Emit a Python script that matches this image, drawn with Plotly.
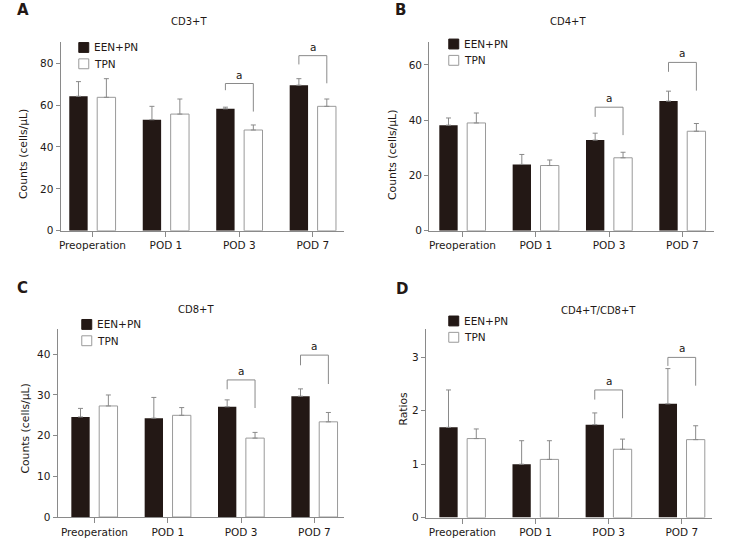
import plotly.graph_objects as go

W, H = 730, 552
FONT = "DejaVu Sans, Verdana, sans-serif"
DARK = "#231815"
GREY = "#8a8a8a"

categories = ["Preoperation", "POD 1", "POD 3", "POD 7"]
groups = ["EEN+PN", "TPN"]
panel_letters = ["A", "B", "C", "D"]
panel_titles = ["CD3+T", "CD4+T", "CD8+T", "CD4+T/CD8+T"]
y_titles = ["Counts (cells/\u03bcL)", "Counts (cells/\u03bcL)", "Counts (cells/\u03bcL)", "Ratios"]

# mean values and upper error (SD)
cd3_een = [64.2, 53.0, 58.2, 69.5]
cd3_een_err = [7.0, 6.4, 0.8, 3.1]
cd3_tpn = [63.7, 55.7, 48.1, 59.4]
cd3_tpn_err = [8.9, 7.2, 2.4, 3.5]

cd4_een = [38.2, 24.0, 32.8, 46.9]
cd4_een_err = [2.6, 3.6, 2.5, 3.6]
cd4_tpn = [39.0, 23.6, 26.4, 36.0]
cd4_tpn_err = [3.6, 2.0, 2.0, 2.8]

cd8_een = [24.6, 24.3, 27.1, 29.7]
cd8_een_err = [2.1, 5.1, 1.7, 1.8]
cd8_tpn = [27.3, 25.0, 19.4, 23.4]
cd8_tpn_err = [2.7, 1.9, 1.4, 2.3]

ratio_een = [1.69, 1.00, 1.74, 2.13]
ratio_een_err = [0.70, 0.44, 0.22, 0.66]
ratio_tpn = [1.48, 1.09, 1.28, 1.46]
ratio_tpn_err = [0.18, 0.35, 0.19, 0.26]

y_ticks = [
    [0, 20, 40, 60, 80],
    [0, 20, 40, 60],
    [0, 10, 20, 30, 40],
    [0, 1, 2, 3],
]

# significance brackets: (category index, top, left leg end, right leg end)
cd3_sig = [(2, 70.3, 67.1, 56.9), (3, 83.6, 79.4, 70.4)]
cd4_sig = [(2, 44.7, 41.2, 34.6), (3, 60.9, 57.5, 50.7)]
cd8_sig = [(2, 33.7, 31.4, 26.8), (3, 39.8, 37.3, 32.7)]
ratio_sig = [(2, 2.39, 2.21, 1.86), (3, 3.00, 2.84, 2.47)]
sig_label = "a"

# pixel layout of each panel: x0, x1 (axis), y of zero line, y of top, y max, x range
boxes = [
    dict(x0=58.7, x1=343.0, yb=233.3, yt=42.7, ymax=90, xr=[-0.434, 3.425]),
    dict(x0=428.3, x1=714.3, yb=233.3, yt=42.7, ymax=68.2, xr=[-0.454, 3.435]),
    dict(x0=55.7, x1=343.3, yb=522.7, yt=332.7, ymax=46.2, xr=[-0.503, 3.408]),
    dict(x0=425.0, x1=711.7, yb=523.3, yt=332.7, ymax=3.53, xr=[-0.50, 3.41]),
]
letter_pos = [(21, 10), (400, 10), (21, 291), (401, 292)]
title_pos = [(188, 21.7), (568, 21.7), (195, 312.7), (598, 313.7)]
ytitle_pos = [(21.7, 156), (391.7, 157), (23.3, 433), (401.7, 413.5)]
legend_pos = [(77, 43), (448, 39.5), (80, 323), (448, 319.5)]

panel_data = [
    (cd3_een, cd3_een_err, cd3_tpn, cd3_tpn_err, cd3_sig),
    (cd4_een, cd4_een_err, cd4_tpn, cd4_tpn_err, cd4_sig),
    (cd8_een, cd8_een_err, cd8_tpn, cd8_tpn_err, cd8_sig),
    (ratio_een, ratio_een_err, ratio_tpn, ratio_tpn_err, ratio_sig),
]

OFFSET = 0.19
BAR_W = 0.25


def px(x):
    return x / W


def py(y):
    return 1 - y / H


fig = go.Figure()
layout = {}
annotations = []
shapes = []

for k, (een, een_err, tpn, tpn_err, sig) in enumerate(panel_data):
    sfx = "" if k == 0 else str(k + 1)
    xa, ya = "x" + sfx, "y" + sfx
    box = boxes[k]
    idx = list(range(len(categories)))
    x_een = [i - OFFSET for i in idx]
    x_tpn = [i + OFFSET for i in idx]

    fig.add_trace(go.Bar(
        x=x_een, y=een, width=BAR_W, name=groups[0],
        marker=dict(color=DARK, line=dict(width=0)),
        error_y=dict(type="data", symmetric=False, array=een_err,
                     arrayminus=[0] * len(een), color=GREY, thickness=1, width=2.5),
        xaxis=xa, yaxis=ya, showlegend=False,
    ))
    fig.add_trace(go.Bar(
        x=x_tpn, y=tpn, width=BAR_W, name=groups[1],
        marker=dict(color="white", line=dict(width=1, color="#9a9a9a")),
        error_y=dict(type="data", symmetric=False, array=tpn_err,
                     arrayminus=[0] * len(tpn), color=GREY, thickness=1, width=2.5),
        xaxis=xa, yaxis=ya, showlegend=False,
    ))

    axis_common = dict(
        showline=True, linecolor=GREY, linewidth=1, ticks="outside",
        tickcolor=GREY, tickwidth=1, showgrid=False, zeroline=False,
        tickfont=dict(family=FONT, size=10.5, color=DARK),
    )
    layout["xaxis" + sfx] = dict(
        axis_common, domain=[px(box["x0"]), px(box["x1"])], anchor=ya,
        range=box["xr"], tickvals=idx, ticktext=categories, ticklen=5,
    )
    layout["yaxis" + sfx] = dict(
        axis_common, domain=[py(box["yb"]), py(box["yt"])], anchor=xa,
        range=[0, box["ymax"]], tickvals=y_ticks[k], ticklen=4,
    )

    # significance brackets
    for ci, top, left_end, right_end in sig:
        xl, xr = ci - OFFSET, ci + OFFSET
        shapes.append(dict(
            type="path", xref=xa, yref=ya,
            path=f"M {xl},{left_end} L {xl},{top} L {xr},{top} L {xr},{right_end}",
            line=dict(color=GREY, width=1),
        ))
        annotations.append(dict(
            x=ci, y=top, xref=xa, yref=ya, text=sig_label, showarrow=False,
            yanchor="bottom", yshift=1,
            font=dict(family=FONT, size=10.5, color=DARK),
        ))

    # panel letter, title and y title
    lx, ly = letter_pos[k]
    annotations.append(dict(
        x=px(lx), y=py(ly), xref="paper", yref="paper", text=f"<b>{panel_letters[k]}</b>",
        showarrow=False, xanchor="center", yanchor="middle",
        font=dict(family=FONT, size=15, color=DARK),
    ))
    tx, ty = title_pos[k]
    annotations.append(dict(
        x=px(tx), y=py(ty), xref="paper", yref="paper", text=panel_titles[k],
        showarrow=False, xanchor="center", yanchor="middle",
        font=dict(family=FONT, size=10, color=DARK),
    ))
    yx, yy = ytitle_pos[k]
    annotations.append(dict(
        x=px(yx), y=py(yy), xref="paper", yref="paper", text=y_titles[k],
        showarrow=False, xanchor="center", yanchor="middle", textangle=-90,
        font=dict(family=FONT, size=10.8, color=DARK),
    ))

    # legend drawn by hand so it sits tight like the original
    gx, gy = legend_pos[k]
    for j, (fill, line) in enumerate([(DARK, DARK), ("white", "#9a9a9a")]):
        top = gy + j * 16.5
        shapes.append(dict(
            type="rect", xref="paper", yref="paper",
            x0=px(gx), x1=px(gx + 10), y0=py(top + 10), y1=py(top),
            fillcolor=fill, line=dict(color=line, width=1),
        ))
        annotations.append(dict(
            x=px(gx + 13), y=py(top + 5), xref="paper", yref="paper", text=groups[j],
            showarrow=False, xanchor="left", yanchor="middle",
            font=dict(family=FONT, size=10.5, color=DARK),
        ))

fig.update_layout(
    **layout,
    width=W, height=H,
    margin=dict(l=0, r=0, t=0, b=0),
    paper_bgcolor="white", plot_bgcolor="white",
    barmode="overlay",
    annotations=annotations, shapes=shapes,
    showlegend=False,
)

# drop the default 8px body margin so the figure sits at the window origin
fig.write_html(
    "out.html",
    config={"displayModeBar": False},
    post_script="document.body.style.margin='0';document.body.style.overflow='hidden';",
)
